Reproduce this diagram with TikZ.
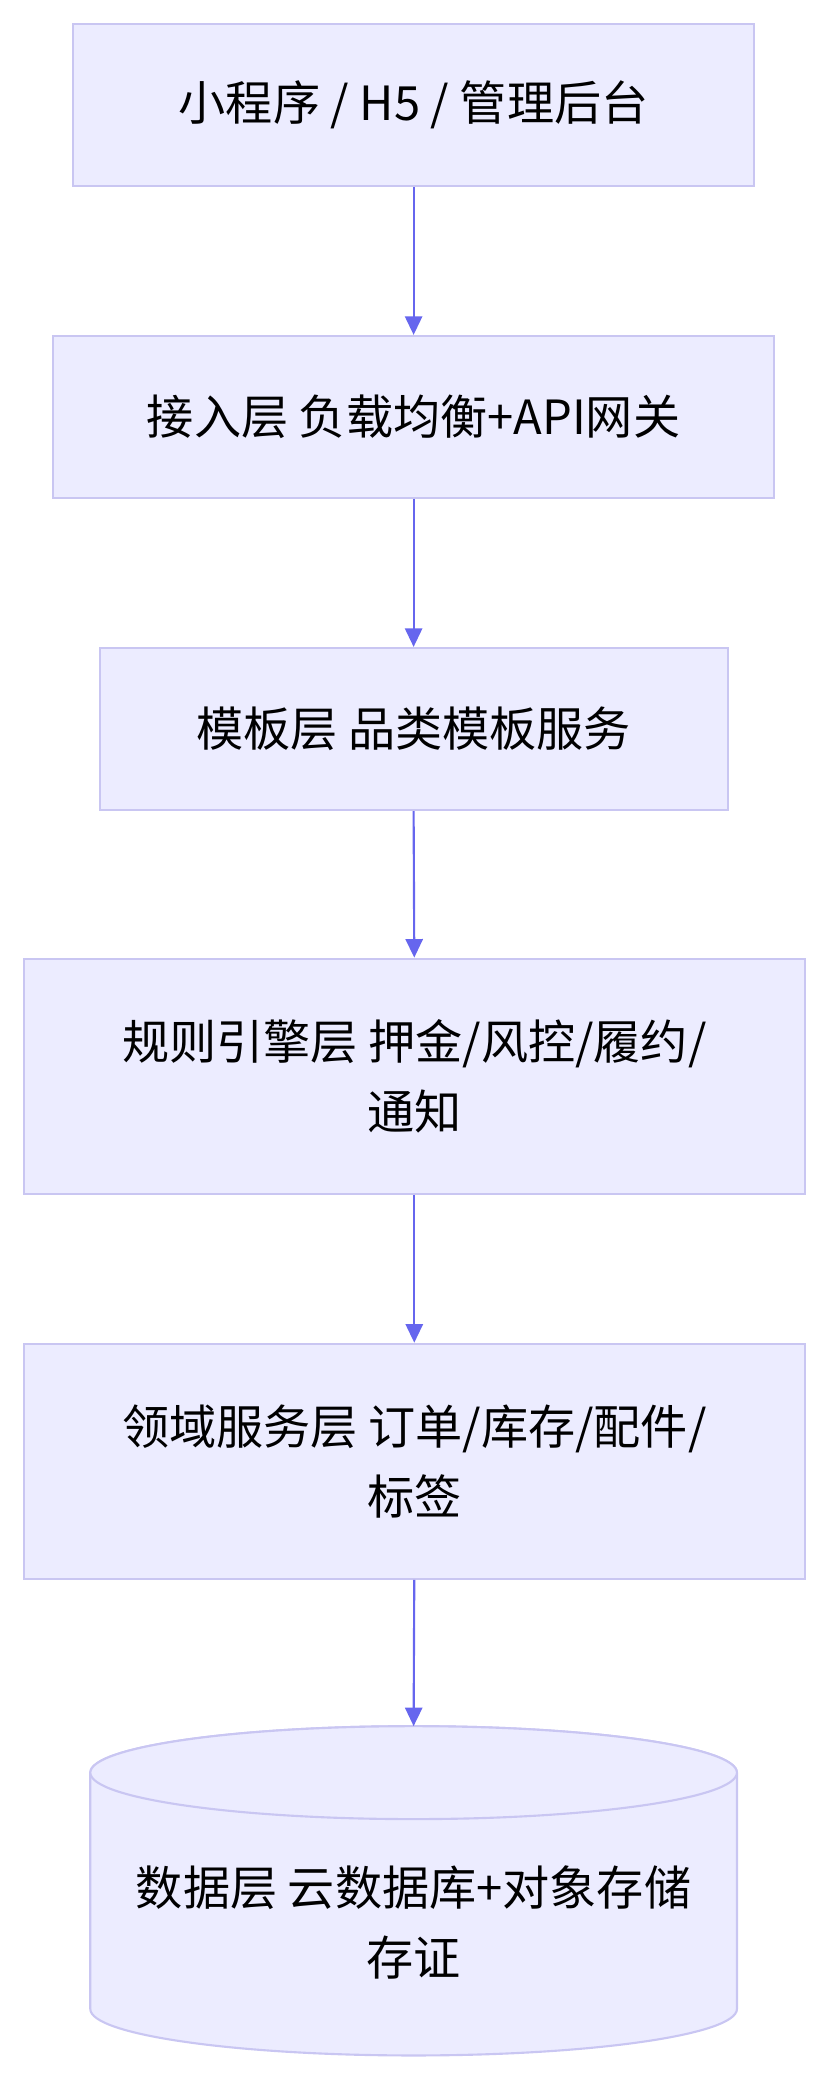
\documentclass[tikz,border=0pt]{standalone}
\usepackage{fontspec}
\setmainfont{Noto Sans CJK SC}
\usetikzlibrary{arrows.meta}
\definecolor{bfill}{HTML}{ECECFF}
\definecolor{bline}{HTML}{C9C6F2}
\definecolor{arr}{HTML}{6666EE}
\begin{document}
\begin{tikzpicture}[x=1pt,y=-1pt,
  box/.style={draw=bline,fill=bfill,line width=1.6pt,font=\fontsize{35.5}{53}\selectfont,align=center,inner sep=0pt},
  link/.style={draw=arr,line width=1.6pt,-{Triangle[length=14pt,width=13pt]}}]
\useasboundingbox (0,0) rectangle (624,1568);
\node[box,minimum width=513pt,minimum height=122pt] (a) at (311.5,79) {小程序 / H5 / 管理后台};
\node[box,minimum width=543pt,minimum height=122pt] (b) at (311.5,314) {接入层 负载均衡+API网关};
\node[box,minimum width=473pt,minimum height=122pt] (c) at (311.5,549) {模板层 品类模板服务};
\node[box,minimum width=588pt,minimum height=177pt] (d) at (312,810.5) {规则引擎层 押金/风控/履约/\\通知};
\node[box,minimum width=588pt,minimum height=177pt] (e) at (312,1100.5) {领域服务层 订单/库存/配件/\\标签};
\draw[draw=bline,fill=bfill,line width=1.6pt] (68,1335) arc[start angle=180,end angle=360,x radius=243.5,y radius=35] -- (555,1513) arc[start angle=0,end angle=180,x radius=243.5,y radius=35] -- cycle;
\draw[draw=bline,fill=bfill,line width=1.6pt] (311.5,1335) ellipse[x radius=243.5,y radius=35];
\coordinate (ftop) at (311.5,1300);
\node[font=\fontsize{35.5}{53}\selectfont,align=center,inner sep=0pt] (f) at (311.5,1448) {数据层 云数据库+对象存储\\存证};
\draw[link] (a.south) -- (b.north);
\draw[link] (b.south) -- (c.north);
\draw[link] (c.south) -- (d.north);
\draw[link] (d.south) -- (e.north);
\draw[link] (e.south) -- (ftop);
\end{tikzpicture}
\end{document}
